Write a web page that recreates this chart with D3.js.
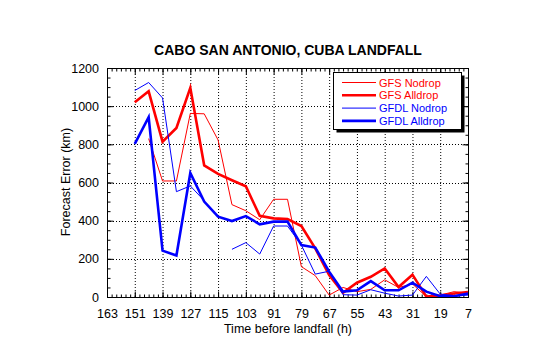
<!DOCTYPE html>
<html><head><meta charset="utf-8">
<script src="https://cdn.jsdelivr.net/npm/d3@7/dist/d3.min.js"></script>
<style>
html,body{margin:0;padding:0;background:#fff;}
text{font-family:"Liberation Sans",Arial,sans-serif;}
</style></head>
<body>
<svg id="c" width="540" height="344"></svg>
<script>
const hours = [151,145,139,133,127,121,115,109,103,97,91,85,79,73,67,61,55,49,43,37,31,25,19,13,7];
const gfsNodrop  = [null,830,608,608,962,960,823,484,452,405,512,512,159,112,10,50,28,40,90,50,68,2,10,28,20];
const gfsAlldrop = [1020,1078,814,886,1096,690,645,612,580,425,412,408,372,255,115,22,75,106,150,52,117,2,8,18,26];
const gfdlNodrop = [1082,1124,1043,552,582,505,null,250,285,225,372,372,272,120,135,12,10,38,20,5,10,108,15,8,10];
const gfdlAlldrop= [802,942,243,217,650,500,421,398,424,381,395,395,272,259,133,28,35,83,35,35,75,28,4,4,18];
const xTicks = [163,151,139,127,115,103,91,79,67,55,43,31,19,7];
const yTicks = [0,200,400,600,800,1000,1200];
const seriesNames = ["GFS Nodrop","GFS Alldrop","GFDL Nodrop","GFDL Alldrop"];
const seriesColors = ["#ff0000","#ff0000","#0000ff","#0000ff"];
const seriesWidths = [1,2.6,1,2.6];
const seriesData = [gfsNodrop,gfsAlldrop,gfdlNodrop,gfdlAlldrop];

const L=107,R=468,T=68,B=297;
const svg=d3.select("#c");
const x=d3.scaleLinear().domain([163,7]).range([L,R]);
const y=d3.scaleLinear().domain([0,1200]).range([B,T]);

// grid
const g=svg.append("g");
g.selectAll(".gx").data(xTicks.slice(1,-1)).join("line")
 .attr("x1",d=>x(d)+0.5).attr("x2",d=>x(d)+0.5).attr("y1",T).attr("y2",B)
 .attr("stroke","#000").attr("stroke-width",1).attr("stroke-dasharray","1,2");
g.selectAll(".gy").data(yTicks.slice(1,-1)).join("line")
 .attr("y1",d=>Math.round(y(d))+0.5).attr("y2",d=>Math.round(y(d))+0.5).attr("x1",L).attr("x2",R)
 .attr("stroke","#000").attr("stroke-width",1).attr("stroke-dasharray","1,2");

// ticks via axes (inward)
const minorX=d3.range(163,6,-2);
const minorY=d3.range(0,1201,50);
function tickAxis(axis,tx,ty,vals,size){
  svg.append("g").attr("transform",`translate(${tx},${ty})`)
   .call(axis.tickValues(vals).tickSize(size).tickFormat(""))
   .call(s=>s.select(".domain").remove());
}
tickAxis(d3.axisTop(x),0,B+0.5,minorX,3);
tickAxis(d3.axisTop(x),0,B+0.5,xTicks,6);
tickAxis(d3.axisBottom(x),0,T+0.5,minorX,3);
tickAxis(d3.axisBottom(x),0,T+0.5,xTicks,6);
tickAxis(d3.axisRight(y),L+0.5,0,minorY,3);
tickAxis(d3.axisRight(y),L+0.5,0,yTicks,6);
tickAxis(d3.axisLeft(y),R+0.5,0,minorY,3);
tickAxis(d3.axisLeft(y),R+0.5,0,yTicks,6);

// tick labels
svg.append("g").attr("transform",`translate(0,${B})`)
 .call(d3.axisBottom(x).tickValues(xTicks).tickSize(0).tickPadding(12).tickFormat(d=>d))
 .call(s=>s.select(".domain").remove())
 .call(s=>s.selectAll("text").attr("font-size",12.5).attr("fill","#000").attr("font-family","Liberation Sans, Arial, sans-serif"));
svg.append("g").attr("transform",`translate(${L},0)`)
 .call(d3.axisLeft(y).tickValues(yTicks).tickSize(0).tickPadding(8).tickFormat(d=>d))
 .call(s=>s.select(".domain").remove())
 .call(s=>s.selectAll("text").attr("font-size",12.5).attr("fill","#000").attr("font-family","Liberation Sans, Arial, sans-serif"));

// lines
svg.append("clipPath").attr("id","cp").append("rect").attr("x",L).attr("y",T).attr("width",R-L).attr("height",B-T+1);
const line=d3.line().defined(d=>d[1]!=null).x(d=>x(d[0])).y(d=>y(d[1]));
seriesData.forEach((s,i)=>{
  svg.append("path").datum(hours.map((h,j)=>[h,s[j]]))
   .attr("d",line).attr("fill","none").attr("stroke",seriesColors[i])
   .attr("stroke-width",seriesWidths[i]).attr("stroke-linejoin","miter").attr("clip-path","url(#cp)");
});

// frame
svg.append("rect").attr("x",L+0.5).attr("y",T+0.5).attr("width",R-L).attr("height",B-T)
 .attr("fill","none").attr("stroke","#000").attr("stroke-width",1);

// legend
const lx=333.5, ly=72.5, lw=128, lh=57;
svg.append("rect").attr("x",lx+3).attr("y",ly+3).attr("width",lw).attr("height",lh).attr("fill","#000");
svg.append("rect").attr("x",lx).attr("y",ly).attr("width",lw).attr("height",lh).attr("fill","#fff").attr("stroke","#000");
seriesNames.forEach((n,i)=>{
  const yy=82.5+i*12.8;
  svg.append("line").attr("x1",342).attr("x2",376).attr("y1",yy).attr("y2",yy)
   .attr("stroke",seriesColors[i]).attr("stroke-width",seriesWidths[i]);
  svg.append("text").attr("x",379).attr("y",yy+4).attr("font-size",11)
   .attr("fill",seriesColors[i]).text(n);
});

// titles
svg.append("text").attr("x",288).attr("y",55).attr("text-anchor","middle")
 .attr("font-size",14).attr("font-weight","bold").text("CABO SAN ANTONIO, CUBA LANDFALL");
svg.append("text").attr("x",288).attr("y",333).attr("text-anchor","middle")
 .attr("font-size",12.5).text("Time before landfall (h)");
svg.append("text").attr("transform","translate(70,182) rotate(-90)").attr("text-anchor","middle")
 .attr("font-size",12.5).text("Forecast Error (km)");
</script>
</body></html>
